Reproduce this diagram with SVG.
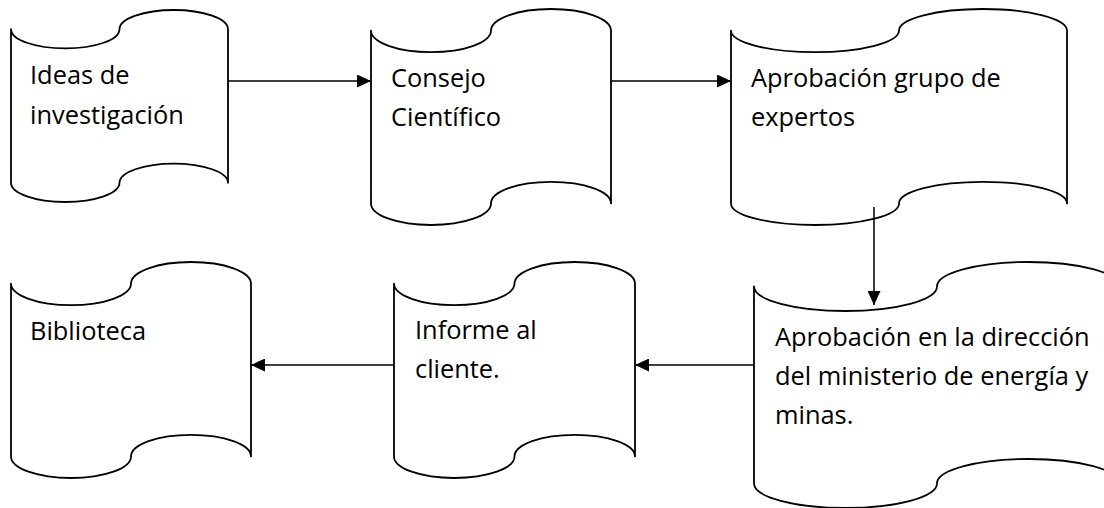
<svg xmlns="http://www.w3.org/2000/svg" width="1104" height="508" viewBox="0 0 1104 508">
  <style>
    .shape { fill: #ffffff; stroke: #000000; stroke-width: 1.8; stroke-linejoin: round; }
    .lbl { font-family: "Open Sans", "Noto Sans", "Liberation Sans", sans-serif; font-size: 25.4px; fill: #000000; }
    .conn { stroke: #000000; stroke-width: 1.5; fill: none; }
  </style>
  <defs>
    <marker id="arrow" markerUnits="userSpaceOnUse" markerWidth="14" markerHeight="13" refX="14" refY="6.5" orient="auto">
      <path d="M0,0 L14,6.5 L0,13 Z" fill="#000000"/>
    </marker>
  </defs>
  <rect width="1104" height="508" fill="#ffffff"/>

  <g id="node-ideas">
    <path class="shape" d="M11,29.2 A54.25,19.2 0 0 0 119.5,29.2 A54.25,19.2 0 0 1 228,29.2 L228,182.8 A54.25,19.2 0 0 0 119.5,182.8 A54.25,19.2 0 0 1 11,182.8 Z"/>
    <text class="lbl" x="30" y="84">Ideas de</text>
    <text class="lbl" x="30" y="124">investigación</text>
  </g>

  <g id="node-consejo">
    <path class="shape" d="M371,30.6 A60,21.6 0 0 0 491,30.6 A60,21.6 0 0 1 611,30.6 L611,203.4 A60,21.6 0 0 0 491,203.4 A60,21.6 0 0 1 371,203.4 Z"/>
    <text class="lbl" x="391" y="87">Consejo</text>
    <text class="lbl" x="391" y="126">Científico</text>
  </g>

  <g id="node-expertos">
    <path class="shape" d="M731,30.6 A84,21.6 0 0 0 899,30.6 A84,21.6 0 0 1 1067,30.6 L1067,203.4 A84,21.6 0 0 0 899,203.4 A84,21.6 0 0 1 731,203.4 Z"/>
    <text class="lbl" x="751" y="87">Aprobación grupo de</text>
    <text class="lbl" x="751" y="126">expertos</text>
  </g>

  <g id="node-ministerio">
    <path class="shape" d="M754,286.5 A91.5,24.5 0 0 0 937,286.5 A91.5,24.5 0 0 1 1120,286.5 L1120,483.5 A91.5,24.5 0 0 0 937,483.5 A91.5,24.5 0 0 1 754,483.5 Z"/>
    <text class="lbl" x="775" y="346">Aprobación en la dirección</text>
    <text class="lbl" x="775" y="385">del ministerio de energía y</text>
    <text class="lbl" x="775" y="424">minas.</text>
  </g>

  <g id="node-informe">
    <path class="shape" d="M394,283.6 A60.25,21.6 0 0 0 514.5,283.6 A60.25,21.6 0 0 1 635,283.6 L635,456.4 A60.25,21.6 0 0 0 514.5,456.4 A60.25,21.6 0 0 1 394,456.4 Z"/>
    <text class="lbl" x="415" y="339">Informe al</text>
    <text class="lbl" x="415" y="378">cliente.</text>
  </g>

  <g id="node-biblioteca">
    <path class="shape" d="M11,283.6 A60,21.6 0 0 0 131,283.6 A60,21.6 0 0 1 251,283.6 L251,456.4 A60,21.6 0 0 0 131,456.4 A60,21.6 0 0 1 11,456.4 Z"/>
    <text class="lbl" x="30" y="340">Biblioteca</text>
  </g>

  <g id="connectors">
    <path class="conn" d="M228,81 L371,81" marker-end="url(#arrow)"/>
    <path class="conn" d="M611,81 L731,81" marker-end="url(#arrow)"/>
    <path class="conn" d="M874,207 L874,305" marker-end="url(#arrow)"/>
    <path class="conn" d="M754,365 L635,365" marker-end="url(#arrow)"/>
    <path class="conn" d="M394,365 L251,365" marker-end="url(#arrow)"/>
  </g>
</svg>
